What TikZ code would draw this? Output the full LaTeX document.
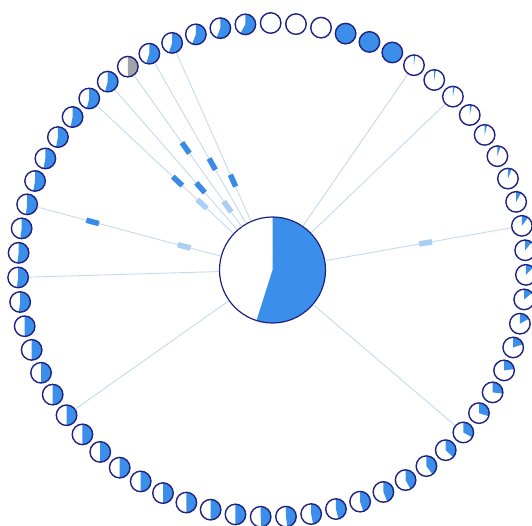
\documentclass[tikz,border=0pt]{standalone}
\definecolor{pieblue}{HTML}{3C8EEB}
\definecolor{rimnavy}{HTML}{1E2280}
\definecolor{edgec}{HTML}{C6DAEE}
\definecolor{tickdark}{HTML}{3A8BE8}
\definecolor{ticklight}{HTML}{A9CFF2}
\definecolor{piegray}{HTML}{A2A2AA}
\tikzset{
  smallc/.style={circle, minimum size=20.5pt, inner sep=0pt, draw=rimnavy, line width=1.4pt, fill=white},
  bigc/.style={circle, minimum size=106pt, inner sep=0pt, draw=rimnavy, line width=1.2pt, fill=white},
  edge/.style={draw=edgec, line width=0.9pt},
  tickd/.style={sloped, rectangle, inner sep=0pt, minimum width=13pt, minimum height=5.5pt, fill=tickdark},
  tickl/.style={sloped, rectangle, inner sep=0pt, minimum width=13pt, minimum height=5.5pt, fill=ticklight}
}
\begin{document}
\begin{tikzpicture}[x=1pt,y=1pt]
\useasboundingbox (0,0) rectangle (532,525);
\clip (0,0) rectangle (532,525);
\fill[white] (0,0) rectangle (532,525);
% centre pie
\node[bigc, path picture={\fill[pieblue] (path picture bounding box.center) -- ++(90:60) arc[start angle=90, delta angle=-197.6, radius=60] -- cycle;}] (ctr) at (272.5,255) {};
% ring of small pies
\foreach \f/\col [count=\i] in {
 0/pieblue,0/pieblue,0/pieblue,1/pieblue,1/pieblue,1/pieblue,
 0.02/pieblue,0.025/pieblue,0.03/pieblue,0.035/pieblue,0.04/pieblue,0.05/pieblue,
 0.06/pieblue,0.08/pieblue,0.1/pieblue,0.11/pieblue,0.12/pieblue,0.14/pieblue,
 0.17/pieblue,0.2/pieblue,0.23/pieblue,0.27/pieblue,0.3/pieblue,0.33/pieblue,
 0.37/pieblue,0.4/pieblue,0.42/pieblue,0.44/pieblue,0.45/pieblue,0.46/pieblue,
 0.47/pieblue,0.48/pieblue,0.49/pieblue,0.5/pieblue,0.5/pieblue,0.5/pieblue,
 0.5/pieblue,0.5/pieblue,0.5/pieblue,0.5/pieblue,0.5/pieblue,0.5/pieblue,
 0.5/pieblue,0.5/pieblue,0.5/pieblue,0.5/pieblue,0.52/pieblue,0.52/pieblue,
 0.52/pieblue,0.52/pieblue,0.52/pieblue,0.53/pieblue,0.53/pieblue,0.53/pieblue,
 0.53/pieblue,0.54/pieblue,0.54/pieblue,0.5/piegray,0.55/pieblue,0.55/pieblue,
 0.56/pieblue,0.56/pieblue,0.58/pieblue}{
  \pgfmathsetmacro\a{90.3-(\i-1)*(360/63)}
  \pgfmathsetmacro\px{272+254*cos(\a)}
  \pgfmathsetmacro\py{255+247*sin(\a)}
  \node[smallc, path picture={
     \ifdim\f pt>0pt
       \fill[\col] (path picture bounding box.center) -- ++(90:12) arc[start angle=90, delta angle=-360*\f, radius=12] -- cycle;
     \fi}] (n\i) at (\px,\py) {};
}
% connectors
\draw[edge] (ctr) -- node[tickd, pos=0.41]{} node[tickl, pos=0.23]{} (n56);
\draw[edge] (ctr) -- node[tickd, pos=0.30]{} (n57);
\draw[edge] (ctr) -- node[tickd, pos=0.52]{} node[tickl, pos=0.13]{} (n58);
\draw[edge] (ctr) -- node[tickd, pos=0.37]{} (n59);
\draw[edge] (ctr) -- node[tickd, pos=0.24]{} (n60);
\draw[edge] (ctr) -- node[tickl, pos=0.20]{} node[tickd, pos=0.70]{} (n51);
\draw[edge] (ctr) -- (n48);
\draw[edge] (ctr) -- (n42);
\draw[edge] (ctr) -- (n24);
\draw[edge] (ctr) -- node[tickl, pos=0.54]{} (n15);
\draw[edge] (ctr) -- (n9);
\draw[edge] (ctr) -- (n7);
\end{tikzpicture}
\end{document}
